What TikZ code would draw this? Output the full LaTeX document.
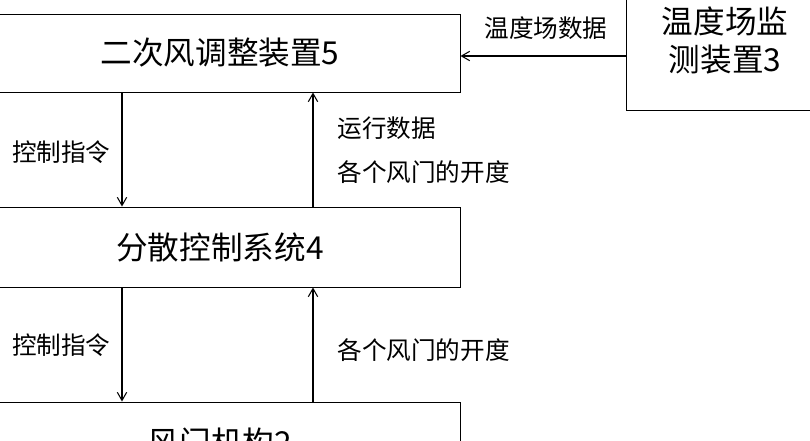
\documentclass[tikz,border=0pt]{standalone}
\usepackage{fontspec}
\setmainfont{Liberation Serif}
\newfontfamily\cjk{Noto Sans CJK SC}
\usetikzlibrary{arrows.meta,positioning}
\tikzset{
	box/.style={draw,line width=0.8pt,inner sep=0pt,font=\cjk\fontsize{27}{32}\selectfont},
	lbl/.style={font=\cjk\fontsize{21}{25}\selectfont,inner sep=1pt},
	flow/.style={-{Straight Barb[length=7pt,width=8pt]},line width=0.9pt}
}
\begin{document}
\begin{tikzpicture}[x=0.03cm,y=-0.03cm]
	\useasboundingbox (0,0) rectangle (810,440);
	% boxes
	\node [box,minimum width=14.4cm,minimum height=2.34cm] (adjust) at (220,53) {二次风调整装置5};
	\node [box,minimum width=5.9cm,minimum height=3.9cm] (monitor) at (725,45) {\begin{tabular}{c}温度场监\\测装置3\end{tabular}};
	\node [box,minimum width=14.4cm,minimum height=2.4cm] (dcs) at (220,247) {分散控制系统4};
	\node [box,minimum width=14.4cm,minimum height=2.4cm] (damper) at (220,442) {风门机构2};
	% connectors
	\draw [flow] (monitor.west |- 0,56) -- (adjust.east |- 0,56);
	\node [lbl] (tdata) at (546,28) {温度场数据};
	\draw [flow] (adjust.south -| 122,0) -- (dcs.north -| 122,0);
	\node [lbl,anchor=east] (cmd1) at (112,152) {控制指令};
	\draw [flow] (dcs.north -| 313,0) -- (adjust.south -| 313,0);
	\node [lbl,anchor=west] (run) at (336,128) {运行数据};
	\node [lbl,anchor=west] (open1) at (336,172) {各个风门的开度};
	\draw [flow] (dcs.south -| 122,0) -- (damper.north -| 122,0);
	\node [lbl,anchor=east] (cmd2) at (112,345) {控制指令};
	\draw [flow] (damper.north -| 313,0) -- (dcs.south -| 313,0);
	\node [lbl,anchor=west] (open2) at (336,350) {各个风门的开度};
\end{tikzpicture}
\end{document}
